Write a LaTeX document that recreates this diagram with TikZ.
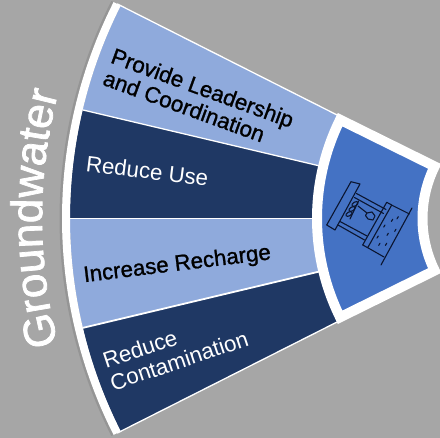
\documentclass[tikz,border=0pt]{standalone}
\usepackage{fontspec}
\setmainfont{Liberation Sans}
\usetikzlibrary{calc,decorations.text}
\definecolor{bggray}{HTML}{A6A6A6}
\definecolor{lightblue}{HTML}{8FAADC}
\definecolor{darkblue}{HTML}{1F3864}
\definecolor{midblue}{HTML}{4472C4}
\definecolor{iconink}{HTML}{0B1530}
\tikzset{
  px/.style={yshift=438pt,y=-1pt},
  divider/.style={draw=white,line width=1.3pt},
  iconline/.style={draw=iconink,line width=1.1pt,line cap=round,line join=round},
  labeltext/.style={font=\fontsize{22.3}{23.5}\selectfont,align=left,inner sep=0pt},
  darklabel/.style={labeltext,text=black,font=\fontsize{22.3}{23.5}\selectfont\addfontfeature{FakeBold=1.1},
     execute at begin node={\special{pdf:code 0.27 0.33 0.47 RG}}},
  whitelabel/.style={labeltext,text=white},
}
\newcommand{\band}[5]{% colour, a1, a2, r1, r2
  \fill[#1] ($(c)+(#2:#4)$) arc (#2:#3:#4) -- ($(c)+(#3:#5)$) arc (#3:#2:#5) -- cycle;
}
\begin{document}
\begin{tikzpicture}[x=1pt,y=1pt]
\useasboundingbox (0,0) rectangle (440,438);
\clip (0,0) rectangle (440,438);
\fill[bggray] (0,0) rectangle (440,438);
\coordinate (c) at (542,219.5);
% soft shadow of the outer arc
\draw[black,opacity=.1,line width=3pt] ($(c)+(153.2:481)$) arc (153.2:206.8:481);
% petals
\band{lightblue}{153.2}{166.7}{472}{225}
\band{darkblue}{166.7}{180}{472}{225}
\band{lightblue}{180}{193.4}{472}{225}
\band{darkblue}{193.4}{206.8}{472}{225}
% dividers and edges
\draw[divider] ($(c)+(153.2:476)$) -- ($(c)+(153.2:225)$);
\draw[divider] ($(c)+(166.7:472)$) -- ($(c)+(166.7:225)$);
\draw[divider] ($(c)+(180:472)$) -- ($(c)+(180:225)$);
\draw[divider,line width=1.8pt] ($(c)+(193.4:472)$) -- ($(c)+(193.4:225)$);
\draw[divider] ($(c)+(206.8:476)$) -- ($(c)+(206.8:225)$);
% outer white band
\band{white}{153.2}{206.8}{480}{472}
% centre sector
\coordinate (k) at (540,219.5);
\draw[white,fill=midblue,line width=10pt,miter limit=10]
  ($(k)+(153.7:223)$) arc (153.7:206.3:223) -- ($(k)+(206.3:117.5)$) arc (206.3:153.7:117.5) -- cycle;
% Groundwater
\path[decorate,decoration={text along path,text align=center,
   text={|\fontsize{44}{44}\selectfont\addfontfeature{FakeBold=1.7}\color{white}|Groundwater}}]
   ($(c)+(196.5:500)$) arc (196.5:163.5:500);
\begin{scope}[px]
\node[darklabel,rotate=-20] (lead) at (198.7,98.8) {Provide Leadership\\and Coordination};
\node[whitelabel,anchor=base,rotate=-7] (use) at (146.3,178.7) {Reduce Use};
\node[darklabel,anchor=base,rotate=7] (recharge) at (178,270.7) {Increase Recharge};
\node[whitelabel,rotate=18.5] (contam) at (175.4,349.5) {Reduce\\Contamination};
% well icon
\begin{scope}[iconline]
\draw (351,181.7) -- (360,184) -- (335,230) -- (326.7,225) -- cycle;
\draw (386.7,202.3) -- (391.7,205) -- (367.7,247.7) -- (362.7,245) -- cycle;
\draw (356.5,193.5) -- (386,209.5);
\draw (354.5,197.5) -- (383.5,213.5);
\draw (340,221.5) -- (367,236);
\draw (338,225) -- (364.5,240);
\draw (391.5,205) -- (409.5,214);
\draw (367.7,247.7) -- (384,257);
\draw (412,208) -- (381,265);
\draw (358.5,201) -- (350,219);
\draw (358,206) -- (367,213);
\draw (367,213) -- (372,212) -- (375,216) -- (373,220) -- (368,219) -- (365.5,215.5) -- cycle;
\draw[rotate around={30:(355,204)}] (355,204) ellipse (3.4 and 1.9);
\draw[rotate around={30:(352,209)}] (352,209) ellipse (3.4 and 1.9);
\draw[rotate around={30:(349,214)}] (349,214) ellipse (3.4 and 1.9);
\draw (398.3,216.7) -- (397,218.8);
\draw (392.7,219.3) -- (391.4,221.4);
\draw (385,225) -- (383.7,227.1);
\draw (396,229.3) -- (394.7,231.4);
\draw (388.3,233.3) -- (387,235.4);
\draw (378.3,236) -- (377,238.1);
\draw (380,243.3) -- (378.7,245.4);
\draw (386.7,243.3) -- (385.4,245.4);
\end{scope}
\end{scope}
\end{tikzpicture}
\end{document}
